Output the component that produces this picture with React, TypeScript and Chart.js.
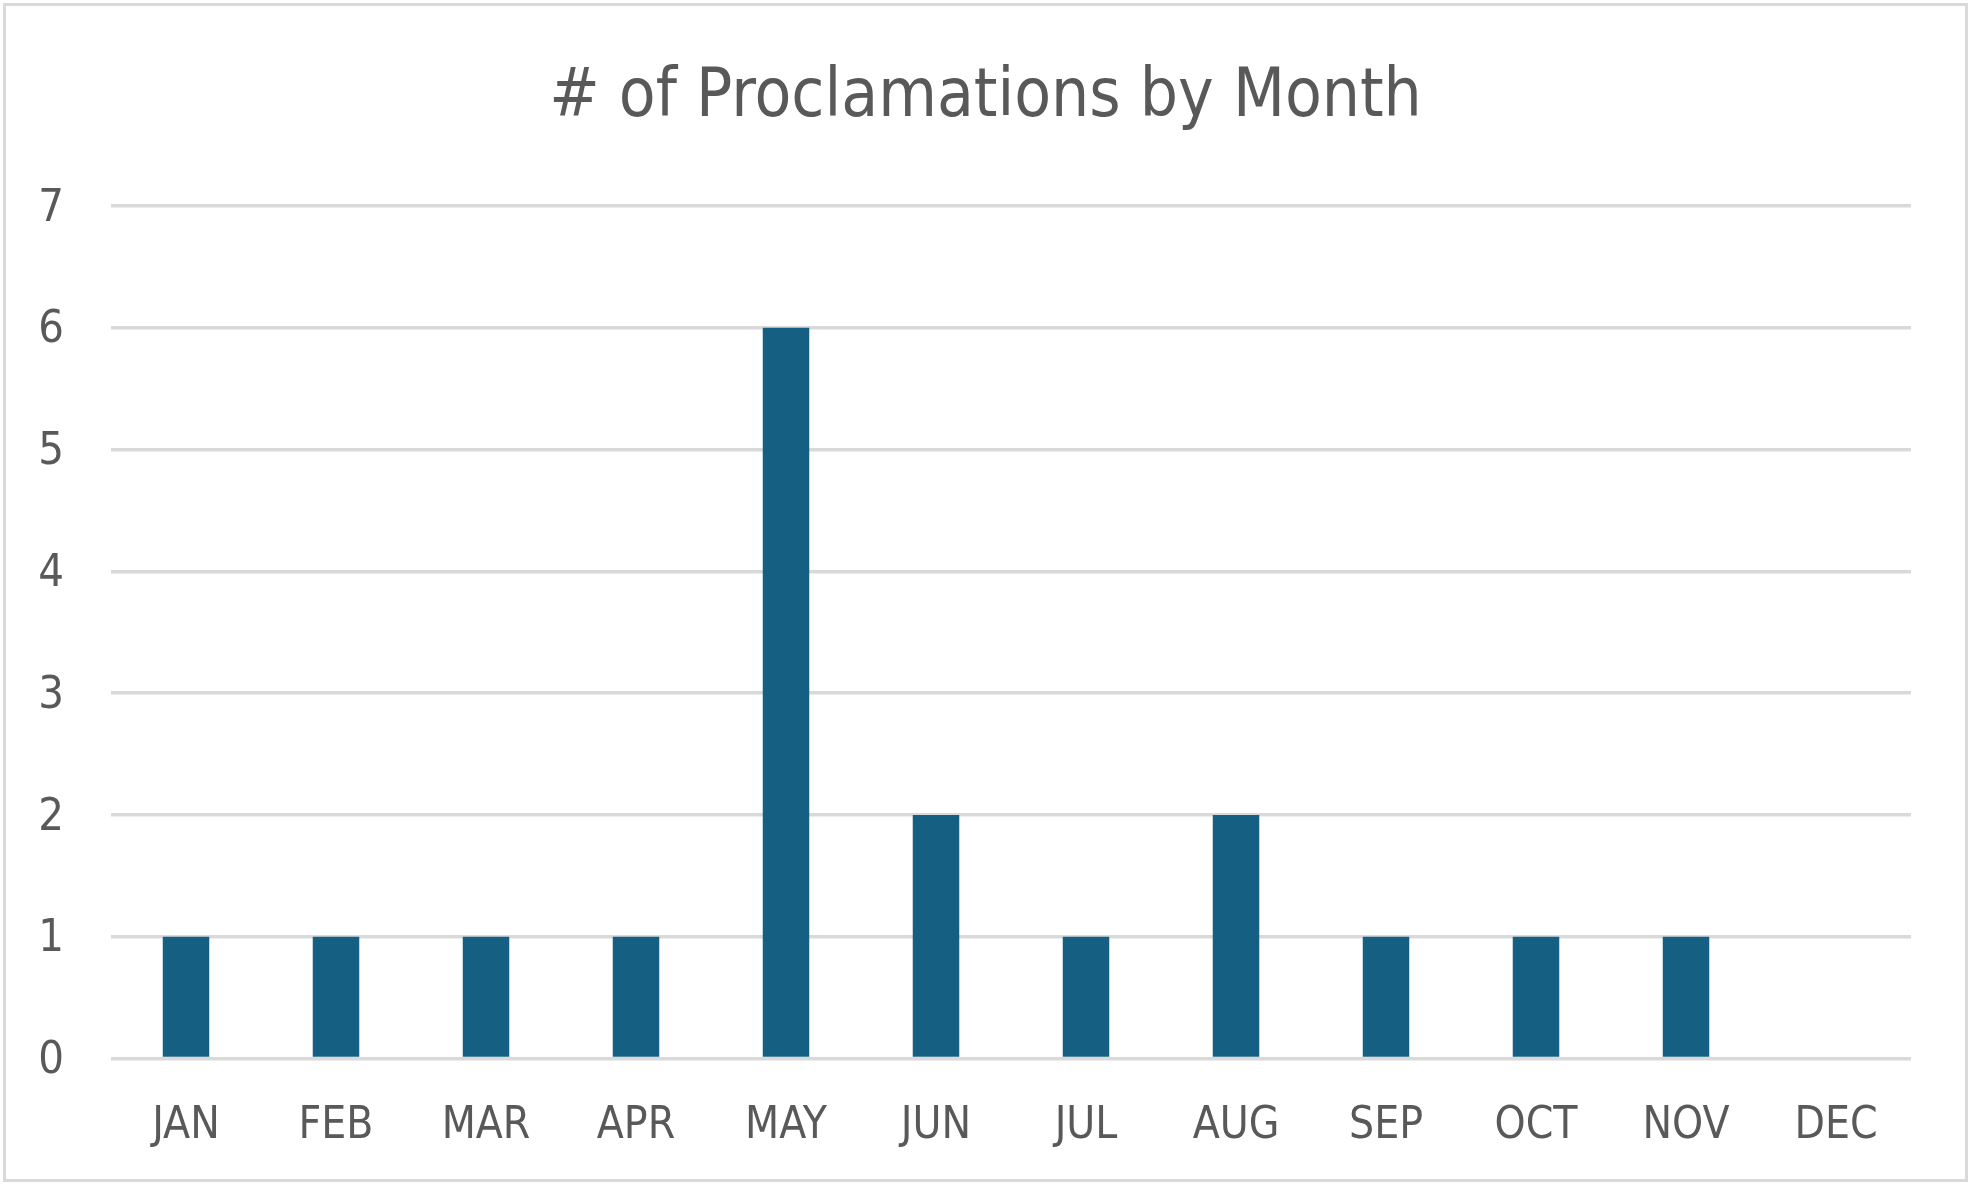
import React, { useEffect, useRef } from "react";
import { Chart, registerables } from "chart.js";

Chart.register(...registerables);

const months = ["JAN", "FEB", "MAR", "APR", "MAY", "JUN", "JUL", "AUG", "SEP", "OCT", "NOV", "DEC"];
const proclamations = [1, 1, 1, 1, 6, 2, 1, 2, 1, 1, 1, 0];
const chartTitle = "# of Proclamations by Month";
const yMin = 0;
const yMax = 7;

const FONT = "'Liberation Sans Narrow', 'DejaVu Sans Condensed', 'Noto Sans', sans-serif";
const W = 1971;
const H = 1185;

export default function App() {
  const ref = useRef<HTMLCanvasElement | null>(null);

  useEffect(() => {
    document.body.style.margin = "0";
    const canvas = ref.current;
    if (!canvas) return;
    const chart = new Chart(canvas, {
      type: "bar",
      data: {
        labels: months,
        datasets: [
          {
            data: proclamations,
            backgroundColor: "#156082",
            borderWidth: 0,
            categoryPercentage: 1,
            barPercentage: 0.31,
          },
        ],
      },
      options: {
        animation: false,
        responsive: false,
        devicePixelRatio: 1,
        layout: { padding: { left: 0, right: 0, top: 0, bottom: 0 } },
        plugins: {
          legend: { display: false },
          tooltip: { enabled: false },
          title: {
            display: true,
            text: chartTitle,
            color: "#595959",
            font: { family: FONT, size: 67, weight: "normal", lineHeight: 1 },
            padding: { top: 65, bottom: 74 },
          },
        },
        scales: {
          x: {
            grid: { display: false, drawTicks: false },
            border: { display: false },
            ticks: {
              color: "#595959",
              font: { family: FONT, size: 44, lineHeight: 1.2 },
              padding: 42,
              maxRotation: 0,
              autoSkip: false,
            },
            afterFit: (axis: any) => {
              axis.height = 126.5;
            },
          },
          y: {
            min: yMin,
            max: yMax,
            grid: { color: "#d9d9d9", lineWidth: 3.5, drawTicks: false },
            border: { display: false },
            ticks: {
              stepSize: 1,
              color: "#595959",
              font: { family: FONT, size: 45 },
              padding: 47,
              labelOffset: 3,
            },
            afterFit: (axis: any) => {
              axis.width = 111;
            },
          },
          yRightSpace: {
            type: "linear",
            position: "right",
            min: yMin,
            max: yMax,
            grid: { display: false, drawTicks: false },
            border: { display: false },
            ticks: { display: false },
            afterFit: (axis: any) => {
              axis.width = 60;
            },
          },
        },
      },
    });
    return () => chart.destroy();
  }, []);

  return (
    <div style={{ position: "absolute", left: 0, top: 0, width: W, height: H, background: "#ffffff" }}>
      <div
        style={{
          position: "absolute",
          left: 3,
          top: 3,
          width: W - 6,
          height: H - 6,
          border: "3px solid #d9d9d9",
          boxSizing: "border-box",
        }}
      />
      <canvas ref={ref} width={W} height={H} style={{ position: "absolute", left: 0, top: 0, width: W, height: H }} />
    </div>
  );
}
